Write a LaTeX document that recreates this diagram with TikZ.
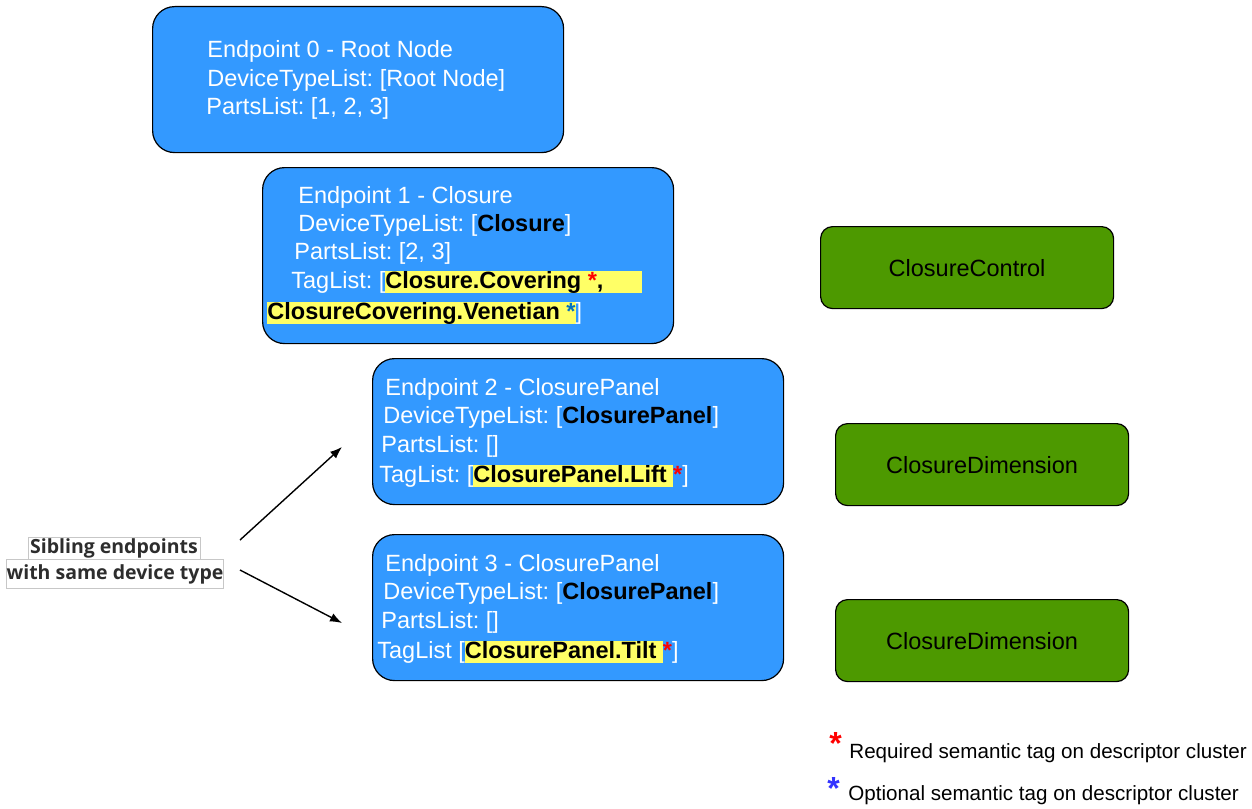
\documentclass[tikz,border=0pt]{standalone}
\usepackage{fontspec}
\setmainfont{Liberation Sans}
\newfontfamily\sibfont{Open Sans}
\usepackage{tikz}
\usetikzlibrary{arrows,arrows.meta}
\definecolor{epblue}{RGB}{51,153,255}
\definecolor{clgreen}{RGB}{77,153,0}
\definecolor{hlyellow}{RGB}{255,255,102}
\definecolor{optblue}{RGB}{0,112,192}
\definecolor{legblue}{RGB}{51,51,255}
\definecolor{sibgray}{RGB}{45,45,45}
\newcommand{\hl}[1]{{\setlength{\fboxsep}{0pt}\colorbox{hlyellow}{\vrule height 8.2pt depth 2.6pt width 0pt#1}}}
\newcommand{\req}{\textcolor{red}{\textbf{*}}}
\frenchspacing

\begin{document}
\begin{tikzpicture}[x=0.5pt,y=-0.5pt,
	ep/.style={draw=black,fill=epblue,rounded corners=11pt,line width=0.6pt,anchor=north west,inner sep=0,minimum width=205.5pt,minimum height=73pt},
	ln/.style={anchor=base west,inner sep=0,text=white,font=\fontsize{11.75}{14}\selectfont},
	grn/.style={draw=black,fill=clgreen,rounded corners=6pt,line width=0.6pt,anchor=north west,minimum width=146.5pt,minimum height=41pt,font=\fontsize{11.75}{14}\selectfont},
	sib/.style={draw=black!22,line width=0.4pt,inner sep=0,text=sibgray,font=\sibfont\bfseries\fontsize{9.75}{11}\selectfont},
	leg/.style={anchor=base west,inner sep=0,font=\fontsize{10.3}{12}\selectfont}]
\useasboundingbox (0,0) rectangle (1252,808);
			% Boîtes
\node[ep] (ep0) at (152,6) {};
\node[ep,minimum height=88pt] (ep1) at (262,167) {};
\node[ep] (ep2) at (372,358) {};
\node[ep] (ep3) at (372,534) {};
\node[ln] (ep0a) at (207,58) {Endpoint 0 - Root Node};
\node[ln] (ep0b) at (207,87) {DeviceTypeList: [Root Node]};
\node[ln] (ep0c) at (206,115) {PartsList: [1, 2, 3]};
\node[ln] (ep1a) at (298,203) {Endpoint 1 - Closure};
\node[ln] (ep1b) at (298,231) {DeviceTypeList: [\textcolor{black}{\textbf{Closure}}]};
\node[ln] (ep1c) at (294,259) {PartsList: [2, 3]};
\node[ln] (ep1d) at (291,288) {TagList: [\hl{\textcolor{black}{\textbf{Closure.Covering \req,}}\hspace{19pt}}};
\node[ln] (ep1e) at (267,319) {\hl{\textcolor{black}{\textbf{ClosureCovering.Venetian \textcolor{optblue}{*}}}}]};
\node[ln] (ep2a) at (385,395) {Endpoint 2 - ClosurePanel};
\node[ln] (ep2b) at (383,423) {DeviceTypeList: [\textcolor{black}{\textbf{ClosurePanel}}]};
\node[ln] (ep2c) at (381,452) {PartsList: []};
\node[ln] (ep2d) at (379,482) {TagList: [\hl{\textcolor{black}{\textbf{ClosurePanel.Lift }}}\req]};
\node[ln] (ep3a) at (385,571) {Endpoint 3 - ClosurePanel};
\node[ln] (ep3b) at (383,599) {DeviceTypeList: [\textcolor{black}{\textbf{ClosurePanel}}]};
\node[ln] (ep3c) at (381,628) {PartsList: []};
\node[ln] (ep3d) at (377,658) {TagList [\hl{\textcolor{black}{\textbf{ClosurePanel.Tilt }}}\req]};
			% Clusters
\node[grn] (ctrl) at (820,226) {ClosureControl};
\node[grn] (dim2) at (835,423) {ClosureDimension};
\node[grn] (dim3) at (835,599) {ClosureDimension};
			% Flèches
\node[sib,minimum width=86pt,minimum height=11pt] (sib1) at (114,548.5) {Sibling endpoints};
\node[sib,minimum width=108pt,minimum height=14.5pt] (sib2) at (115,574) {with same device type};
\coordinate (s1) at (240,540);
\coordinate (s2) at (240,570);
\coordinate (t2) at (342,447);
\coordinate (t3) at (342,623);
\draw [-{Latex[length=6pt,width=4.5pt]},line width=0.7pt] (s1) -- (t2);
\draw [-{Latex[length=6pt,width=4.5pt]},line width=0.7pt] (s2) -- (t3);
			% Légende
\node[leg,font=\fontsize{16}{16}\selectfont\bfseries,text=red] (rstar) at (829,754) {*};
\node[leg] (rtxt) at (849,758) {Required semantic tag on descriptor cluster};
\node[leg,font=\fontsize{16}{16}\selectfont\bfseries,text=legblue] (ostar) at (827,799) {*};
\node[leg] (otxt) at (848,800) {Optional semantic tag on descriptor cluster};
\end{tikzpicture}
\end{document}
